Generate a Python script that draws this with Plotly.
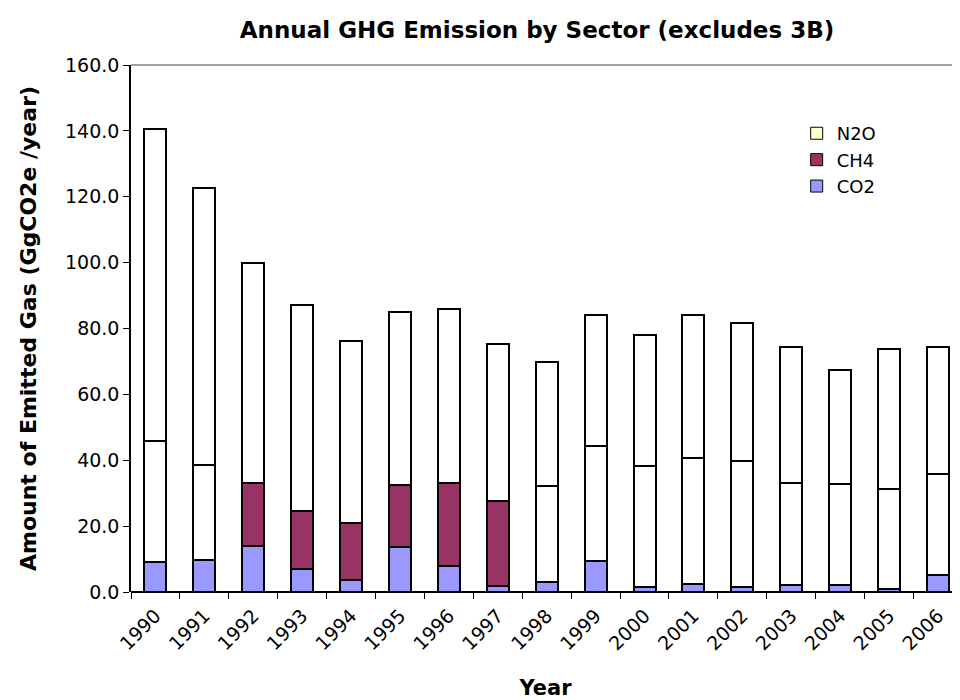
import plotly.graph_objects as go

years = [str(y) for y in range(1990, 2007)]
# cumulative tops
co2 = [9.2, 9.6, 13.9, 7.0, 3.5, 13.8, 7.8, 1.9, 2.9, 9.5, 1.5, 2.3, 1.5, 2.0, 2.0, 1.0, 5.1]
ch4_top = [45.8, 38.6, 33.1, 24.5, 21.0, 32.5, 33.0, 27.6, 32.1, 44.2, 38.2, 40.6, 39.7, 33.2, 32.7, 31.2, 35.7]
total = [140.6, 122.6, 99.8, 87.0, 76.2, 85.0, 86.0, 75.4, 69.8, 84.2, 77.9, 84.2, 81.8, 74.3, 67.3, 73.7, 74.3]
ch4 = [round(t - c, 2) for t, c in zip(ch4_top, co2)]
n2o = [round(t - c, 2) for t, c in zip(total, ch4_top)]
y_ticks = [0, 20, 40, 60, 80, 100, 120, 140, 160]

C_CO2 = "#9999FF"
C_CH4 = "#993366"
C_N2O = "#FFFFCC"
ch4_colors = [C_CH4 if 1992 <= int(y) <= 1997 else "white" for y in years]

FONT = "DejaVu Sans, Liberation Sans, Arial, sans-serif"
line = dict(color="black", width=2)

W, H = 952, 692
fig = go.Figure()
fig.add_bar(x=years, y=co2, name="CO2", marker=dict(color=C_CO2, line=line), showlegend=False, width=0.45)
fig.add_bar(x=years, y=ch4, name="CH4", marker=dict(color=ch4_colors, line=line), showlegend=False, width=0.45)
fig.add_bar(x=years, y=n2o, name="N2O", marker=dict(color="white", line=line), showlegend=False, width=0.45)
# legend entries
for nm, col in [("CO2", C_CO2), ("CH4", C_CH4), ("N2O", C_N2O)]:
    fig.add_bar(x=[None], y=[None], name=nm, marker=dict(color=col, line=dict(color="black", width=1)))

fig.update_layout(
    barmode="stack",
    width=W, height=H,
    margin=dict(l=123, r=0, t=57, b=108),
    plot_bgcolor="white", paper_bgcolor="white",
    font=dict(family=FONT, size=18, color="black"),
    title=dict(text="<b>Annual GHG Emission by Sector (excludes 3B)</b>", x=529 / W, xanchor="center",
               y=1 - 22 / H, yanchor="middle", font=dict(size=23, family=FONT)),
    legend=dict(x=0.803, y=0.905, xanchor="left", yanchor="top", traceorder="reversed",
                font=dict(size=18, family=FONT), bgcolor="rgba(0,0,0,0)", itemwidth=30,
                tracegroupgap=0),
    showlegend=True,
)
fig.update_xaxes(
    type="category", range=[-0.5, 16.45], tickangle=-45, tickson="boundaries",
    ticks="outside", ticklen=6, tickcolor="black", showline=False, showgrid=False,
    tickfont=dict(size=19, family=FONT), ticklabelstandoff=8,
    title=dict(text="<b>Year</b>", font=dict(size=21, family=FONT), standoff=27),
)
fig.update_yaxes(
    range=[0, 160], tickvals=y_ticks, ticktext=[f"{v:.1f}" for v in y_ticks],
    ticks="outside", ticklen=6, tickcolor="black", showline=True, linecolor="black", linewidth=1.5,
    showgrid=False, zeroline=True, zerolinecolor="black", zerolinewidth=1.5,
    tickfont=dict(size=19, family=FONT),
    title=dict(text="<b>Amount of Emitted Gas (GgCO2e /year)</b>", font=dict(size=22, family=FONT), standoff=22),
)
fig.add_shape(type="line", xref="paper", yref="paper", x0=0, x1=1, y0=1, y1=1,
              line=dict(color="#808080", width=1.5))
fig.write_html("out.html")
